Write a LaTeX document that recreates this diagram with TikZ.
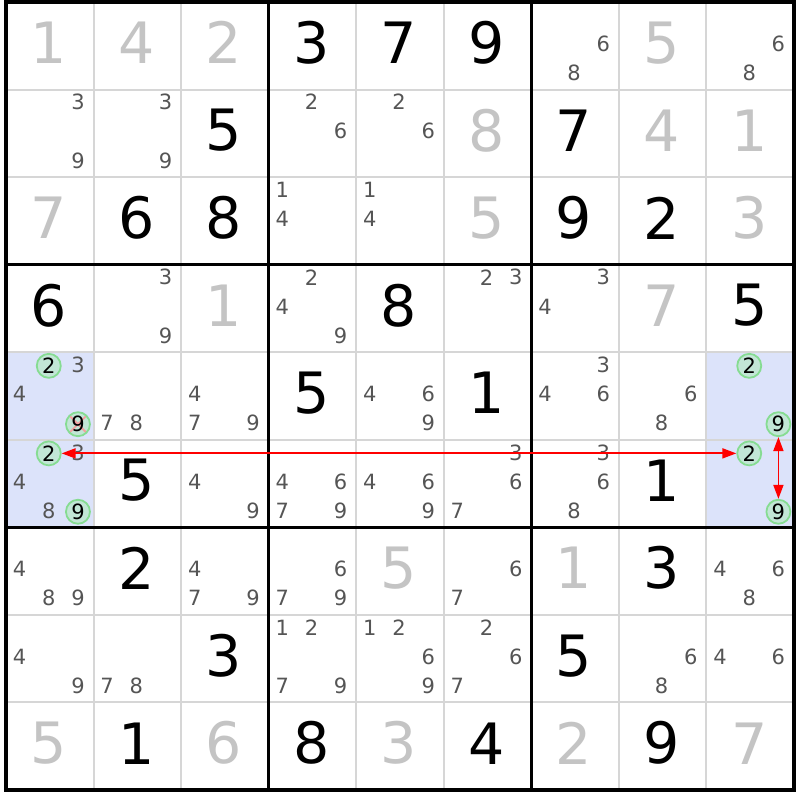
\documentclass[tikz,border=0pt]{standalone}
\usepackage{fontspec}
\setmainfont{DejaVu Sans}
\usetikzlibrary{arrows.meta}
\definecolor{gridgray}{HTML}{D6D6D6}
\definecolor{solvedgray}{HTML}{C4C4C4}
\definecolor{candgray}{HTML}{555555}
\definecolor{hl}{HTML}{DCE3FA}
\definecolor{ringline}{HTML}{86DC92}
\definecolor{ringfill}{HTML}{C2E6D6}
\definecolor{crossred}{HTML}{F4A0A0}
\definecolor{linkred}{HTML}{FF0000}
\begin{document}
\begin{tikzpicture}[x=1pt,y=-1pt,
  given/.style={font=\fontsize{57}{57}\selectfont, text=black, inner sep=0pt},
  solved/.style={font=\fontsize{57}{57}\selectfont, text=solvedgray, inner sep=0pt},
  cand/.style={font=\fontsize{21}{21}\selectfont, text=candgray, inner sep=0pt},
  ring/.style={circle, draw=ringline, fill=ringfill, line width=1.8pt, minimum size=24pt, inner sep=0pt, font=\fontsize{21}{21}\selectfont, text=black},
  crossed/.style={path picture={\draw[crossred, line width=1.8pt] (path picture bounding box.north west) -- (path picture bounding box.south east) (path picture bounding box.north east) -- (path picture bounding box.south west);}},
  thingrid/.style={draw=gridgray, line width=2pt},
  thickgrid/.style={draw=black, line width=3pt},
  link/.style={draw=linkred, fill=linkred, line width=1.8pt, {Triangle[length=14pt,width=10pt]}-{Triangle[length=14pt,width=10pt]}}
]
\def\S{87.556}
\useasboundingbox (0,0) rectangle (800,800);
\fill[white] (0,0) rectangle (800,800);
% highlighted cells
\foreach \r/\c in {5/1,6/1,5/9,6/9}
  \fill[hl] ({6+(\c-1)*\S},{2+(\r-1)*\S}) rectangle ++(\S,\S);
% grid
\foreach \i in {1,2,4,5,7,8} {
  \draw[thingrid] ({6+\i*\S},2) -- ({6+\i*\S},790);
  \draw[thingrid] (6,{2+\i*\S}) -- (794,{2+\i*\S});
}
\foreach \i in {3,6} {
  \draw[thickgrid] ({6+\i*\S},2) -- ({6+\i*\S},790);
  \draw[thickgrid] (6,{2+\i*\S}) -- (794,{2+\i*\S});
}
\draw[draw=black, line width=4pt] (6,2) rectangle (794,790);
% given digits
\foreach \r/\c/\d in {1/4/3,1/5/7,1/6/9,2/3/5,2/7/7,3/2/6,3/3/8,3/7/9,3/8/2,4/1/6,4/5/8,4/9/5,5/4/5,5/6/1,6/2/5,6/8/1,7/2/2,7/8/3,8/3/3,8/7/5,9/2/1,9/4/8,9/6/4,9/8/9}
  \node[given] (g-\r-\c) at ({6+(\c-0.5)*\S-1},{2+(\r-0.5)*\S-3}) {\d};
% solved digits
\foreach \r/\c/\d in {1/1/1,1/2/4,1/3/2,1/8/5,2/6/8,2/8/4,2/9/1,3/1/7,3/6/5,3/9/3,4/3/1,4/8/7,7/5/5,7/7/1,9/1/5,9/3/6,9/5/3,9/7/2,9/9/7}
  \node[solved] (s-\r-\c) at ({6+(\c-0.5)*\S-1},{2+(\r-0.5)*\S-3}) {\d};
% candidates
\foreach \r/\c/\d in {1/7/6,1/7/8,1/9/6,1/9/8,
  2/1/3,2/1/9,2/2/3,2/2/9,2/4/2,2/4/6,2/5/2,2/5/6,
  3/4/1,3/4/4,3/5/1,3/5/4,
  4/2/3,4/2/9,4/4/2,4/4/4,4/4/9,4/6/2,4/6/3,4/7/3,4/7/4,
  5/1/3,5/1/4,5/2/7,5/2/8,5/3/4,5/3/7,5/3/9,5/5/4,5/5/6,5/5/9,5/7/3,5/7/4,5/7/6,5/8/6,5/8/8,
  6/1/3,6/1/4,6/1/8,6/3/4,6/3/9,6/4/4,6/4/6,6/4/7,6/4/9,6/5/4,6/5/6,6/5/9,6/6/3,6/6/6,6/6/7,6/7/3,6/7/6,6/7/8,
  7/1/4,7/1/8,7/1/9,7/3/4,7/3/7,7/3/9,7/4/6,7/4/7,7/4/9,7/6/6,7/6/7,7/9/4,7/9/6,7/9/8,
  8/1/4,8/1/9,8/2/7,8/2/8,8/4/1,8/4/2,8/4/7,8/4/9,8/5/1,8/5/2,8/5/6,8/5/9,8/6/2,8/6/6,8/6/7,8/8/6,8/8/8,8/9/4,8/9/6} {
  \pgfmathsetmacro\cx{6+(\c-1)*\S+(mod(\d-1,3)+0.5)*\S/3-1}
  \pgfmathsetmacro\cy{2+(\r-1)*\S+(int((\d-1)/3)+0.5)*\S/3-2}
  \node[cand] (c-\r-\c-\d) at (\cx,\cy) {\d};
}
% circled candidates
\foreach \r/\c/\d/\extra in {5/1/2/{},5/1/9/crossed,6/1/2/{},6/1/9/{},5/9/2/{},5/9/9/{},6/9/2/{},6/9/9/{}} {
  \pgfmathsetmacro\cx{6+(\c-1)*\S+(mod(\d-1,3)+0.5)*\S/3-1}
  \pgfmathsetmacro\cy{2+(\r-1)*\S+(int((\d-1)/3)+0.5)*\S/3-1}
  \node[ring,\extra] (ring-\r-\c-\d) at (\cx,\cy) {\d};
}
% links
\draw[link] (ring-6-9-2) -- (ring-6-1-2);
\draw[link] (ring-5-9-9) -- (ring-6-9-9);
\end{tikzpicture}
\end{document}
